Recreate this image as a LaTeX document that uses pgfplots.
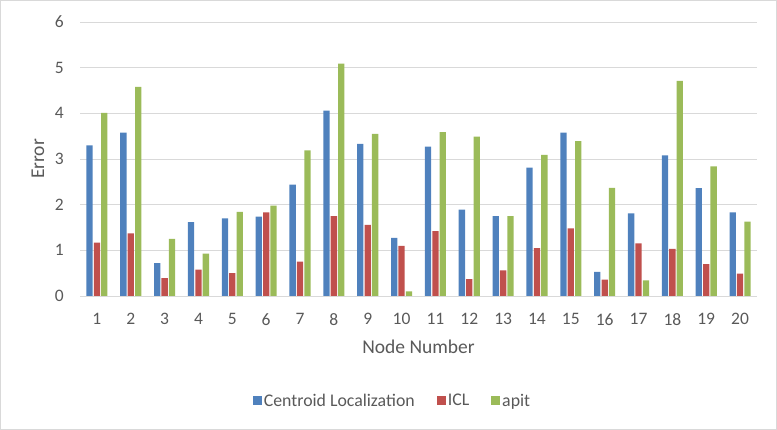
\documentclass[border=0pt]{standalone}
\usepackage{pgfplots}
\pgfplotsset{compat=1.18}
\usepackage{fontspec}
\setmainfont{Carlito}
\definecolor{cblue}{RGB}{79,129,189}
\definecolor{cred}{RGB}{192,80,77}
\definecolor{cgreen}{RGB}{155,187,89}
\definecolor{txt}{RGB}{89,89,89}
\definecolor{gridc}{RGB}{217,217,217}
\begin{document}
\begin{tikzpicture}[x=1pt,y=1pt]
\path[use as bounding box] (0,0) rectangle (777,430);
\draw[gridc,line width=0.8pt] (0.5,0.5) rectangle (776.5,429.5);
\begin{axis}[
  at={(80pt,134pt)}, anchor=south west,
  scale only axis, width=677pt, height=274pt,
  xmin=0.5, xmax=20.5, ymin=0, ymax=6,
  ybar=1.1pt, bar width=6.3pt,
  xtick={1,...,20}, ytick={0,...,6},
  major tick length=0pt,
  axis x line*=bottom, axis y line*=left,
  x axis line style={-, draw=gridc, line width=0.8pt},
  y axis line style={-, draw=none},
  ymajorgrids, grid style={draw=gridc, line width=0.8pt},
  ticklabel style={font=\fontsize{17.5}{20}\selectfont, text=txt, inner sep=0pt},
  xticklabel style={anchor=north, yshift=-17pt},
  yticklabel style={anchor=east, xshift=-16pt},
  /pgf/number format/assume math mode=true,
  xlabel={Node Number}, ylabel={Error},
  label style={font=\fontsize{19.5}{22}\selectfont, text=txt},
  xlabel style={at={(axis description cs:0.5,-0.186)}, anchor=center},
  ylabel style={at={(axis description cs:-0.062,0.5)}, anchor=center},
  legend columns=-1,
  legend style={at={(axis description cs:0.4616,-0.383)}, anchor=center, draw=none, fill=none,
    font=\fontsize{17.8}{20}\selectfont, text=txt,
    /tikz/every even column/.append style={column sep=20pt}},
  legend image code/.code={\fill[#1] (0pt,-4.5pt) rectangle (9pt,4.5pt);},
]
\addplot[fill=cblue, draw=none] coordinates {
(1,3.30) (2,3.58) (3,0.72) (4,1.62) (5,1.70) (6,1.74) (7,2.44) (8,4.06) (9,3.33) (10,1.27)
(11,3.27) (12,1.89) (13,1.75) (14,2.81) (15,3.58) (16,0.53) (17,1.81) (18,3.08) (19,2.36) (20,1.83)};
\addplot[fill=cred, draw=none] coordinates {
(1,1.17) (2,1.37) (3,0.39) (4,0.58) (5,0.50) (6,1.83) (7,0.75) (8,1.75) (9,1.56) (10,1.10)
(11,1.42) (12,0.37) (13,0.56) (14,1.05) (15,1.48) (16,0.36) (17,1.15) (18,1.03) (19,0.70) (20,0.49)};
\addplot[fill=cgreen, draw=none] coordinates {
(1,4.01) (2,4.58) (3,1.25) (4,0.93) (5,1.84) (6,1.98) (7,3.19) (8,5.09) (9,3.55) (10,0.10)
(11,3.59) (12,3.49) (13,1.75) (14,3.09) (15,3.39) (16,2.37) (17,0.34) (18,4.71) (19,2.84) (20,1.63)};
\legend{Centroid Localization, ICL, apit}
\end{axis}
\end{tikzpicture}
\end{document}
